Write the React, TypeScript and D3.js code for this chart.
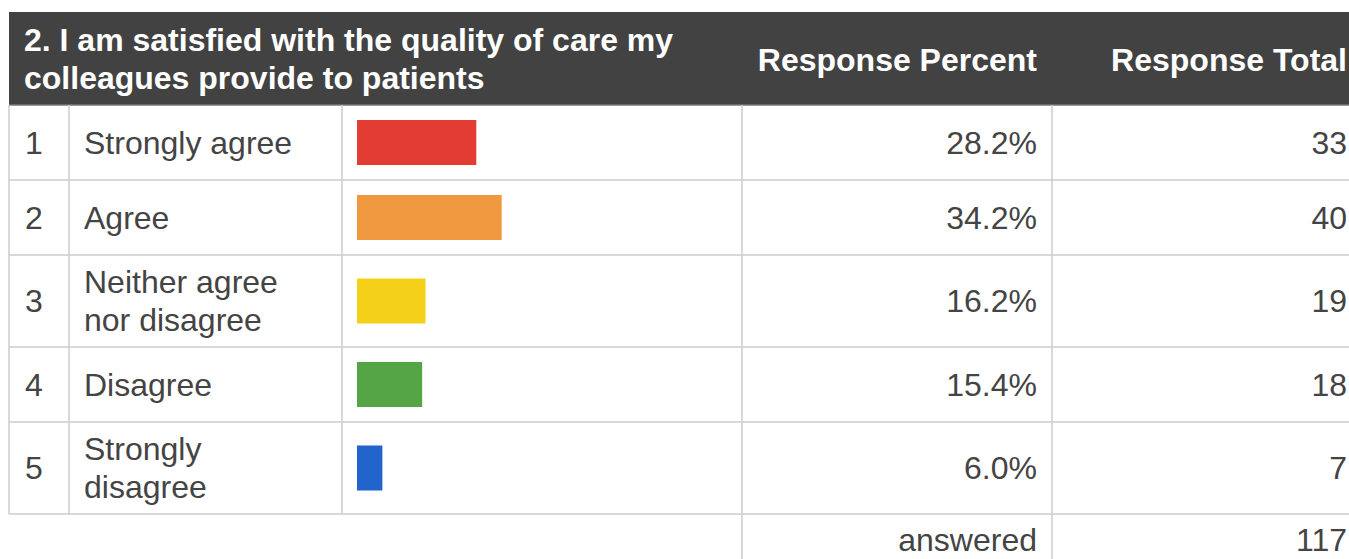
import React from "react";
import * as d3 from "d3";

// survey question + answers
const title = ["2. I am satisfied with the quality of care my", "colleagues provide to patients"];
const columnHeads = ["Response Percent", "Response Total"];
const answers = [["Strongly agree"], ["Agree"], ["Neither agree", "nor disagree"], ["Disagree"], ["Strongly", "disagree"]];
const percents = [28.2, 34.2, 16.2, 15.4, 6.0];
const totals = [33, 40, 19, 18, 7];
const answeredTotal = 117;
const palette = ["#e33d33", "#f0983f", "#f4d019", "#55a546", "#2263cc"];

const W = 1349;
const H = 559;
const colX = [9, 69, 342, 742, 1052, 1362];
const headerTop = 12;
const headerH = 93;
const fontSize = 32;
const textColor = "#444444";
const gridColor = "#cccccc";

const App = () => {
  const rowH = answers.map((a) => (a.length > 1 ? 92 : 75));
  const rowTop: number[] = [];
  let acc = headerTop + headerH;
  rowH.forEach((h) => {
    rowTop.push(acc);
    acc += h;
  });
  const tableBottom = acc;

  const x = d3.scaleLinear().domain([0, 100]).range([0, 423]);
  const barX = colX[2] + 15;
  const barH = 45;

  return (
    <svg
      width={W}
      height={H}
      style={{ position: "absolute", left: 0, top: 0, fontFamily: "'Liberation Sans', Arial, sans-serif" }}
    >
      <rect x={0} y={0} width={W} height={H} fill="#ffffff" />

      {/* header */}
      <rect x={colX[0]} y={headerTop} width={colX[5] - colX[0]} height={headerH} fill="#424242" />
      <line x1={colX[0]} x2={colX[5]} y1={headerTop + headerH} y2={headerTop + headerH} stroke="#777" strokeWidth={1.5} />
      {title.map((t, i) => (
        <text key={i} x={24} y={51 + i * 38} fill="#fff" fontWeight="bold" fontSize={fontSize}>
          {t}
        </text>
      ))}
      <text x={colX[4] - 15} y={71} fill="#fff" fontWeight="bold" fontSize={fontSize} textAnchor="end">
        {columnHeads[0]}
      </text>
      <text x={colX[5] - 15} y={71} fill="#fff" fontWeight="bold" fontSize={fontSize} textAnchor="end">
        {columnHeads[1]}
      </text>

      {/* rows */}
      {answers.map((lines, i) => {
        const top = rowTop[i];
        const mid = top + rowH[i] / 2;
        const base = mid + 11;
        return (
          <g key={i}>
            <line x1={colX[0]} x2={colX[5]} y1={top + rowH[i]} y2={top + rowH[i]} stroke={gridColor} strokeWidth={1.5} />
            <text x={25} y={base} fill={textColor} fontSize={fontSize}>
              {i + 1}
            </text>
            {lines.map((l, j) => (
              <text
                key={j}
                x={colX[1] + 15}
                y={base + (j - (lines.length - 1) / 2) * 38}
                fill={textColor}
                fontSize={fontSize}
              >
                {l}
              </text>
            ))}
            <rect x={barX} y={mid - barH / 2} width={x(percents[i])} height={barH} fill={palette[i]} />
            <text x={colX[4] - 15} y={base} fill={textColor} fontSize={fontSize} textAnchor="end">
              {percents[i].toFixed(1) + "%"}
            </text>
            <text x={colX[5] - 15} y={base} fill={textColor} fontSize={fontSize} textAnchor="end">
              {totals[i]}
            </text>
          </g>
        );
      })}

      {/* vertical grid */}
      {colX.slice(0, 5).map((cx, i) => (
        <line
          key={i}
          x1={cx}
          x2={cx}
          y1={headerTop + headerH}
          y2={i >= 3 ? H : tableBottom}
          stroke={gridColor}
          strokeWidth={1.5}
        />
      ))}

      {/* footer */}
      <text x={colX[4] - 15} y={551} fill={textColor} fontSize={fontSize} textAnchor="end">
        answered
      </text>
      <text x={colX[5] - 15} y={551} fill={textColor} fontSize={fontSize} textAnchor="end">
        {answeredTotal}
      </text>
    </svg>
  );
};

export default App;
